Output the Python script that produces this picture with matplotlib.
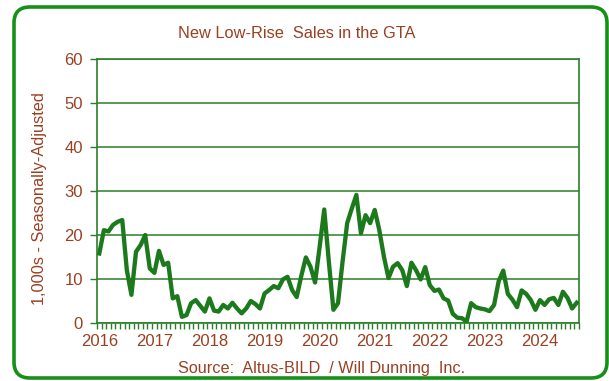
import matplotlib.pyplot as plt
from matplotlib.patches import FancyBboxPatch
import numpy as np

# Monthly sales (thousands, seasonally adjusted), Jan 2016 - Sep 2024
sales = [
    15.8, 21.1, 20.8, 22.3, 23.0, 23.4, 12.0, 6.4, 16.2, 17.7, 20.0, 12.4,   # 2016
    11.4, 16.4, 13.2, 13.7, 5.6, 6.1, 1.4, 1.8, 4.5, 5.2, 3.9, 2.6,          # 2017
    5.6, 2.8, 2.6, 4.1, 3.3, 4.6, 3.3, 2.2, 3.3, 5.0, 4.3, 3.3,              # 2018
    6.7, 7.5, 8.4, 7.9, 9.9, 10.5, 7.5, 5.9, 10.7, 14.9, 12.8, 9.2,          # 2019
    17.3, 25.8, 14.0, 3.0, 4.5, 14.0, 22.7, 26.0, 29.1, 20.4, 24.5, 22.7,    # 2020
    25.7, 21.1, 15.1, 10.2, 12.8, 13.6, 12.0, 8.4, 13.7, 12.0, 9.9, 12.7,    # 2021
    8.6, 7.3, 7.6, 5.6, 5.1, 2.1, 1.2, 1.1, 0.3, 4.5, 3.6, 3.3,              # 2022
    3.1, 2.7, 4.1, 9.5, 11.9, 6.6, 5.3, 3.6, 7.4, 6.6, 5.2, 3.0,             # 2023
    5.2, 4.1, 5.4, 5.7, 4.1, 7.1, 5.7, 3.3, 4.6,                             # 2024
]
years = ['2016', '2017', '2018', '2019', '2020', '2021', '2022', '2023', '2024']
y_ticks = [0, 10, 20, 30, 40, 50, 60]

brown = '#9a4022'
green = '#2a7f2a'
line_green = '#1c7a1c'
frame_green = '#17901a'

plt.rcParams['font.family'] = ['Liberation Sans', 'DejaVu Sans']

fig = plt.figure(figsize=(6.09, 3.81), dpi=100)

# rounded frame, drawn in pixel units so the corners stay round
bg = fig.add_axes([0, 0, 1, 1], zorder=0)
bg.set_xlim(0, 609)
bg.set_ylim(381, 0)
bg.axis('off')
bg.add_patch(FancyBboxPatch((28, 21), 565, 343,
                            boxstyle='round,pad=14,rounding_size=16',
                            fc='white', ec=frame_green, lw=2.6))

ax = fig.add_axes([97 / 609, 58 / 381, 482 / 609, 264 / 381], zorder=1)
ax.patch.set_alpha(0)

x = np.arange(len(sales))
ax.plot(x, sales, color=line_green, lw=3.1, solid_joinstyle='round', zorder=3)

ax.set_xlim(-0.5, len(sales) - 0.5)
ax.set_ylim(0, 60)
ax.set_yticks(y_ticks)
ax.yaxis.grid(True, color=green, lw=1.1)
ax.set_axisbelow(True)

ax.set_xticks(np.arange(0, len(sales), 12))
ax.set_xticklabels(years)
ax.set_xticks(np.arange(-0.5, len(sales)), minor=True)
ax.tick_params(axis='x', which='major', length=0, pad=8, labelsize=12, labelcolor=brown)
ax.tick_params(axis='x', which='minor', length=4, width=1, color=green, direction='out')
ax.tick_params(axis='y', length=5, width=1, color=green, pad=5, labelsize=12, labelcolor=brown)

for side in ['left', 'bottom', 'right', 'top']:
    ax.spines[side].set_color(green)
    ax.spines[side].set_linewidth(1.2)

ax.set_ylabel('1,000s - Seasonally-Adjusted', color=brown, fontsize=11.8)
ax.yaxis.set_label_coords(-0.103, 0.473)

fig.text(297 / 609, 1 - 33 / 381, 'New Low-Rise  Sales in the GTA', color=brown,
         fontsize=11.8, ha='center', va='center')
fig.text(322 / 609, 1 - 368 / 381, 'Source:  Altus-BILD  / Will Dunning  Inc.', color=brown,
         fontsize=11.7, ha='center', va='center')

fig.savefig('out.png', dpi=100)
plt.close()
